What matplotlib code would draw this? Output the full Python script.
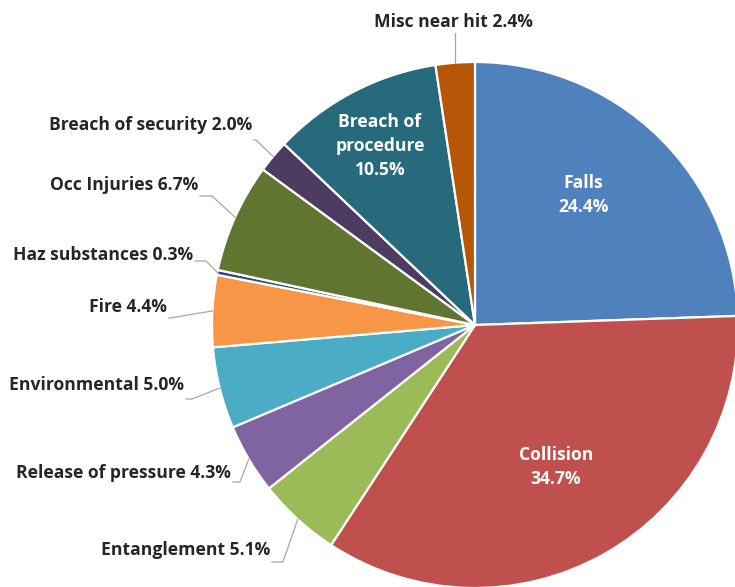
import numpy as np
import matplotlib.pyplot as plt

categories = ['Falls', 'Collision', 'Entanglement', 'Release of pressure', 'Environmental',
              'Fire', 'Haz substances', 'Occ Injuries', 'Breach of security',
              'Breach of procedure', 'Misc near hit']
values = [24.4, 34.7, 5.1, 4.3, 5.0, 4.4, 0.3, 6.7, 2.0, 10.5, 2.4]
colors = ['#4F81BD', '#C0504D', '#9BBB59', '#8064A2', '#4BACC6', '#F79646',
          '#2C4D75', '#5F7530', '#4D3B62', '#276A7C', '#B65708']

# inside labels (white) and outside labels (with leader lines)
inside = {'Falls': 'Falls\n24.4%', 'Collision': 'Collision\n34.7%',
          'Breach of procedure': 'Breach of\nprocedure\n10.5%'}

W, H = 735, 587
cx, cy, R = 475, H - 325, 263

fig = plt.figure(figsize=(W / 100, H / 100), dpi=100)
ax = fig.add_axes([0, 0, 1, 1])

wedges, _ = ax.pie(values, colors=colors, startangle=90, counterclock=False,
                   center=(cx, cy), radius=R, normalize=True,
                   wedgeprops=dict(edgecolor='white', linewidth=1.6))
ax.set_aspect('auto')
ax.set_xlim(0, W)
ax.set_ylim(0, H)
ax.axis('off')

font = dict(family=['Open Sans', 'DejaVu Sans'], fontweight='bold', fontsize=12.6)

# inside label positions (pixel, from top)
inside_pos = {'Falls': (583, 195), 'Collision': (556, 467), 'Breach of procedure': (380, 146)}
for name, txt in inside.items():
    x, y = inside_pos[name]
    ax.text(x, H - y, txt, ha='center', va='center', color='white',
            linespacing=1.4, **font)

# outside label layout: text anchor (right end, centre y), elbow point
outside = {
    'Breach of security': ((252, 125), (256, 140)),
    'Occ Injuries': ((198, 185), (212, 196)),
    'Haz substances': ((193, 255), (206, 261)),
    'Fire': ((167, 307), (170, 318)),
    'Environmental': ((184, 385), (192, 399)),
    'Release of pressure': ((231, 473), (240, 482)),
    'Entanglement': ((270, 550), (283, 562)),
}

tot = sum(values)
cum = np.cumsum([0] + values[:-1])
for i, name in enumerate(categories):
    if name in inside:
        continue
    mid = 90 - (cum[i] + values[i] / 2) / tot * 360
    ex = cx + R * np.cos(np.radians(mid))
    ey = cy + R * np.sin(np.radians(mid))
    label = f'{name} {values[i]:.1f}%'
    if name == 'Misc near hit':
        ax.text(453, H - 22, label, ha='center', va='center', color='#262626', **font)
        ax.plot([ex, ex], [H - 33, ey], color='#A6A6A6', lw=0.9)
        continue
    (tx, ty), (bx, by) = outside[name]
    ax.text(tx, H - ty, label, ha='right', va='center', color='#262626', **font)
    ax.plot([tx + 2, bx, ex], [H - by, H - by, ey], color='#A6A6A6', lw=0.9)

fig.savefig('out.png', dpi=100)
